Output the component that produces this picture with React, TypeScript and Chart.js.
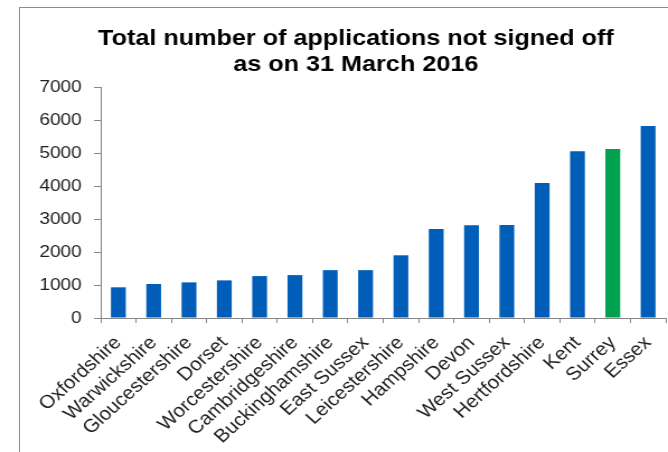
import React, { useEffect, useRef } from "react";
import { Chart, registerables } from "chart.js";

Chart.register(...registerables);

// ---- data ----
const categories = [
  "Oxfordshire",
  "Warwickshire",
  "Gloucestershire",
  "Dorset",
  "Worcestershire",
  "Cambridgeshire",
  "Buckinghamshire",
  "East Sussex",
  "Leicestershire",
  "Hampshire",
  "Devon",
  "West Sussex",
  "Hertfordshire",
  "Kent",
  "Surrey",
  "Essex",
];
const applicationsNotSignedOff = [
  930, 1030, 1080, 1140, 1270, 1300, 1450, 1450, 1900, 2700, 2810, 2820, 4090,
  5050, 5120, 5820,
];
const highlightedCategory = "Surrey";
const yTickMin = 0;
const yTickMax = 7000;
const yTickStep = 1000;
const titleLines = [
  "Total number of applications not signed off",
  "as on 31 March 2016",
];

// ---- styling ----
const FONT = "'Liberation Sans', Arial, Helvetica, sans-serif";
const BLUE = "#005EB8";
const GREEN = "#00A14F";
const AXIS = "#868686";
const PAGE_W = 668;
const PAGE_H = 452;
const CANVAS_W = 597;
const STRETCH = PAGE_W / CANVAS_W;

const titlePlugin = {
  id: "twoLineTitle",
  afterDraw(chart: any) {
    const ctx = chart.ctx;
    ctx.save();
    ctx.fillStyle = "#000";
    ctx.font = `bold 22.5px ${FONT}`;
    ctx.textAlign = "center";
    ctx.textBaseline = "middle";
    titleLines.forEach((line, i) => {
      ctx.fillText(line, 318, 39 + i * 26);
    });
    ctx.restore();
  },
};

export default function App() {
  const ref = useRef<HTMLCanvasElement | null>(null);

  useEffect(() => {
    if (!ref.current) return;
    const chart = new Chart(ref.current, {
      type: "bar",
      data: {
        labels: categories,
        datasets: [
          {
            data: applicationsNotSignedOff,
            backgroundColor: categories.map((c) =>
              c === highlightedCategory ? GREEN : BLUE
            ),
            borderWidth: 0,
            barPercentage: 0.42,
            categoryPercentage: 1,
          },
        ],
      },
      plugins: [titlePlugin],
      options: {
        animation: false,
        responsive: false,
        devicePixelRatio: 1,
        layout: { padding: { left: 0, right: 2, top: 87, bottom: 0 } },
        plugins: {
          legend: { display: false },
          tooltip: { enabled: false },
          title: { display: false },
        },
        scales: {
          x: {
            grid: {
              display: true,
              drawOnChartArea: false,
              drawTicks: true,
              tickLength: 5,
              color: AXIS,
              offset: true,
            },
            border: { display: true, color: AXIS, width: 1 },
            ticks: {
              autoSkip: false,
              maxRotation: 45,
              minRotation: 45,
              padding: 9,
              color: "#1e1e1e",
              font: { family: FONT, size: 18.5 },
            },
            afterFit: (scale: any) => {
              scale.height = 134;
              scale.paddingLeft = 0;
              scale.paddingRight = 0;
            },
          },
          y: {
            min: yTickMin,
            max: yTickMax,
            grid: {
              display: true,
              drawOnChartArea: false,
              drawTicks: true,
              tickLength: 6,
              color: AXIS,
            },
            border: { display: true, color: AXIS, width: 1 },
            ticks: {
              stepSize: yTickStep,
              padding: 11,
              color: "#1e1e1e",
              font: { family: FONT, size: 17 },
              callback: (v: any) => String(v),
            },
            afterFit: (scale: any) => {
              scale.width = 90;
              scale.paddingTop = 0;
              scale.paddingBottom = 0;
            },
          },
        },
      },
    });
    return () => chart.destroy();
  }, []);

  return (
    <div
      style={{
        position: "absolute",
        left: 0,
        top: 0,
        width: PAGE_W,
        height: PAGE_H,
        overflow: "hidden",
        background: "#fff",
      }}
    >
      <div
        style={{
          position: "absolute",
          left: 19,
          top: 7,
          width: PAGE_W + 20,
          height: PAGE_H + 20,
          borderLeft: "1px solid #8c8c8c",
          borderTop: "1px solid #8c8c8c",
        }}
      />
      <canvas
        ref={ref}
        width={CANVAS_W}
        height={PAGE_H}
        style={{
          position: "absolute",
          left: 0,
          top: 0,
          display: "block",
          transform: `scaleX(${STRETCH})`,
          transformOrigin: "0 0",
        }}
      />
    </div>
  );
}
